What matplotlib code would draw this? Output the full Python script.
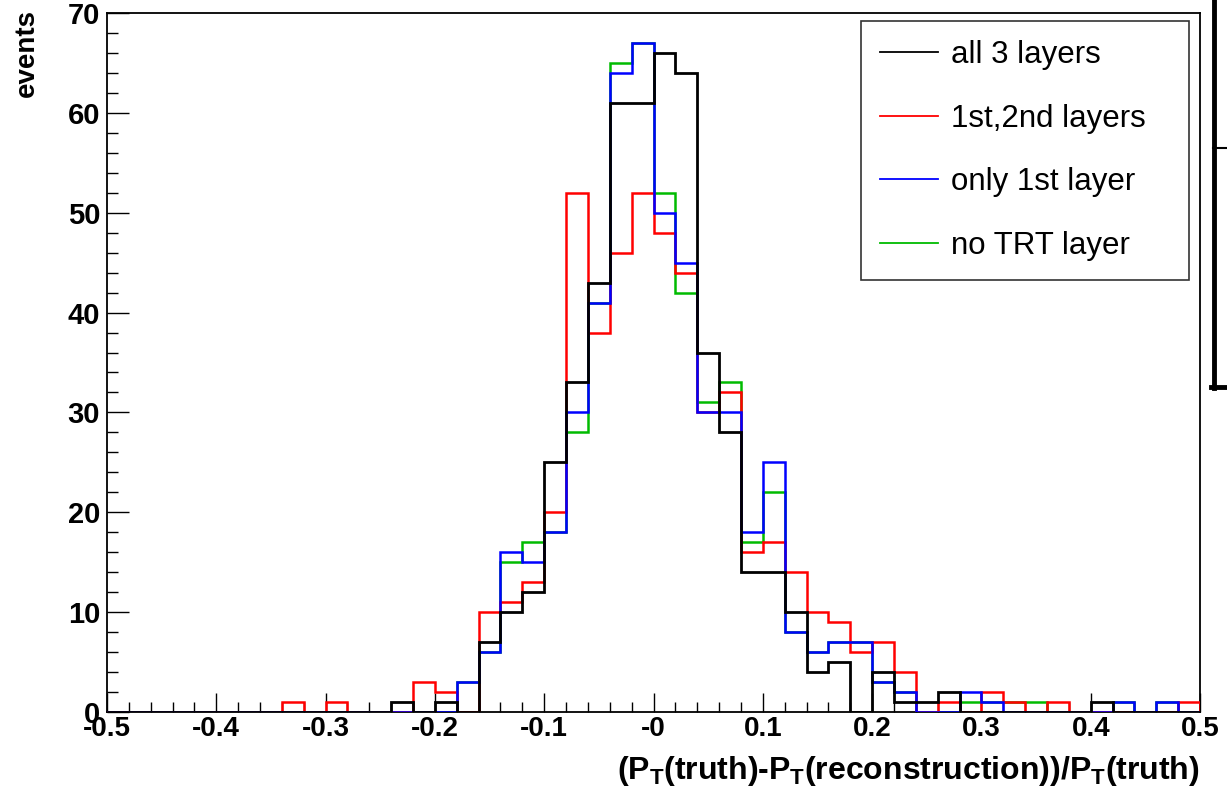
import numpy as np
import matplotlib
matplotlib.use('Agg')
import matplotlib.pyplot as plt
from matplotlib.lines import Line2D

# histogram: 50 bins from -0.5 to 0.5
x_min, x_max, n_bins = -0.5, 0.5, 50

all3 = [0, 0, 0, 0, 0, 0, 0, 0, 0, 0,
        0, 0, 0, 1, 0, 1, 0, 7, 10, 12,
        25, 33, 43, 61, 61, 66, 64, 36, 28, 14,
        14, 10, 4, 5, 0, 4, 1, 1, 2, 0,
        0, 0, 0, 0, 0, 1, 0, 0, 0, 0]
first_second = [0, 0, 0, 0, 0, 0, 0, 0, 1, 0,
                1, 0, 0, 0, 3, 2, 0, 10, 11, 13,
                20, 52, 38, 46, 52, 48, 44, 30, 32, 16,
                17, 14, 10, 9, 6, 7, 4, 0, 1, 0,
                2, 1, 0, 1, 0, 0, 0, 0, 0, 1]
only_first = [0, 0, 0, 0, 0, 0, 0, 0, 0, 0,
              0, 0, 0, 0, 0, 0, 3, 6, 16, 15,
              18, 30, 41, 64, 67, 50, 45, 30, 30, 18,
              25, 8, 6, 7, 7, 3, 2, 0, 0, 2,
              1, 0, 0, 0, 0, 0, 1, 0, 1, 0]
no_trt = [0, 0, 0, 0, 0, 0, 0, 0, 0, 0,
          0, 0, 0, 0, 0, 0, 3, 6, 15, 17,
          18, 28, 41, 65, 67, 52, 42, 31, 33, 17,
          22, 8, 6, 7, 7, 3, 2, 0, 0, 1,
          1, 1, 1, 0, 0, 0, 1, 0, 1, 0]

labels = ['all 3 layers', '1st,2nd layers', 'only 1st layer', 'no TRT layer']
xtick_labels = ['-0.5', '-0.4', '-0.3', '-0.2', '-0.1', '-0',
                '0.1', '0.2', '0.3', '0.4', '0.5']
ytick_labels = ['0', '10', '20', '30', '40', '50', '60', '70']

plt.rcParams['font.family'] = ['Liberation Sans', 'DejaVu Sans']
plt.rcParams['mathtext.fontset'] = 'custom'
plt.rcParams['mathtext.rm'] = 'Liberation Sans:bold'
plt.rcParams['mathtext.it'] = 'Liberation Sans:bold'
plt.rcParams['mathtext.bf'] = 'Liberation Sans:bold'

W, H = 1227, 788
fig = plt.figure(figsize=(W / 100, H / 100), dpi=100)
ax = fig.add_axes([107 / W, 1 - 712 / H, (1200 - 107) / W, (712 - 13) / H])

edges = np.linspace(x_min, x_max, n_bins + 1)
# drawing order: green under red under blue under black
ax.stairs(no_trt, edges, color='#00bb00', lw=1.8, zorder=2)
ax.stairs(first_second, edges, color='#ff0000', lw=1.8, zorder=3)
ax.stairs(only_first, edges, color='#0000ff', lw=1.8, zorder=4)
ax.stairs(all3, edges, color='black', lw=2.0, zorder=5)

ax.set_xlim(x_min, x_max)
ax.set_ylim(0, 70)

ax.set_xticks(np.linspace(x_min, x_max, len(xtick_labels)))
ax.set_xticklabels(xtick_labels)
ax.set_xticks(edges, minor=True)
ax.set_yticks(np.arange(0, 71, 10))
ax.set_yticklabels(ytick_labels)
ax.set_yticks(np.arange(0, 71, 2), minor=True)

ax.tick_params(axis='x', which='major', direction='in', length=14, width=1,
               labelsize=20, pad=3)
ax.tick_params(axis='x', which='minor', direction='in', length=7, width=1)
ax.tick_params(axis='y', which='major', direction='in', length=16, width=1,
               labelsize=21, pad=5)
ax.tick_params(axis='y', which='minor', direction='in', length=8, width=1)
for lab in ax.get_xticklabels() + ax.get_yticklabels():
    lab.set_fontweight('bold')
for sp in ax.spines.values():
    sp.set_linewidth(1.3)

ax.set_xlabel(r'$(P_{T}(truth)\text{-}P_{T}(reconstruction))/P_{T}(truth)$',
              fontsize=23, ha='right', va='top')
ax.xaxis.set_label_coords(1.0, -(754 - 712) / 699)
ax.set_ylabel('events', fontsize=20, fontweight='bold', loc='top')
ax.yaxis.set_label_coords(-(107 - 40) / 1093, 1.0 + 4 / 699)

handles = [Line2D([], [], color=c, lw=1.3)
           for c in ['black', '#ff0000', '#0000ff', '#00bb00']]
leg = ax.legend(handles, labels, loc='upper left', mode='expand',
                bbox_to_anchor=(861 / W, 1 - 277 / H, (1189 - 861) / W, (277 - 21) / H),
                bbox_transform=fig.transFigure, fontsize=22.5, frameon=True,
                fancybox=False, edgecolor='black', borderaxespad=0,
                handlelength=1.85, handletextpad=0.42, labelspacing=1.08,
                borderpad=0.6)
leg.get_frame().set_linewidth(1.2)

# edge of the neighbouring pad on the right
def px_line(xs, ys, lw):
    fig.add_artist(Line2D([x / W for x in xs], [1 - y / H for y in ys],
                          color='black', lw=lw, transform=fig.transFigure))

px_line([1213.5, 1213.5], [0, 388], 3.5)
px_line([1213, 1227], [148, 148], 1.5)
px_line([1211, 1227], [387, 387], 3.5)

fig.savefig('out.png', dpi=100)
